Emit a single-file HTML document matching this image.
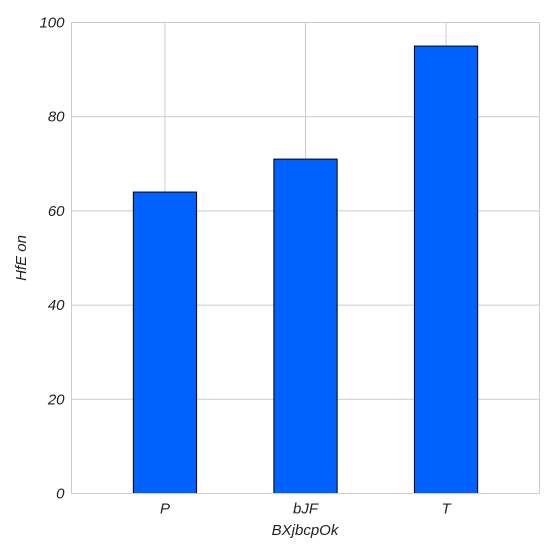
<!DOCTYPE html>
<html><head><meta charset="utf-8">
<style>
html,body{margin:0;padding:0;background:#fff;}
svg text{font-family:"Liberation Sans",sans-serif;font-style:italic;fill:#222;}
</style></head>
<body>
<svg id="chart" width="553" height="553" xmlns="http://www.w3.org/2000/svg">
<g id="grid"></g>
<g id="bars"></g>
<rect x="71.5" y="22.5" width="468" height="471" fill="none" stroke="#cccccc" stroke-width="1"/>
<g id="ticks"></g>
<text x="305" y="535" text-anchor="middle" font-size="15">BXjbcpOk</text>
<text transform="translate(26,258) rotate(-90)" text-anchor="middle" font-size="15">HfE on</text>
</svg>
<script>
const categories = ["P", "bJF", "T"];
const values = [64, 71, 95];
const yTicks = [0, 20, 40, 60, 80, 100];

const L = 71.5, R = 539.5, T = 22.5, B = 493.5;
const xMin = 0.335, xMax = 3.665, yMin = 0, yMax = 100;
const xs = i => L + ((i + 1) - xMin) / (xMax - xMin) * (R - L);
const ys = v => B - (v - yMin) / (yMax - yMin) * (B - T);
const barW = 0.45 * (R - L) / (xMax - xMin);
const NS = "http://www.w3.org/2000/svg";
const grid = document.getElementById("grid");
const bars = document.getElementById("bars");
const ticks = document.getElementById("ticks");

yTicks.forEach(v => {
  const l = document.createElementNS(NS, "line");
  
  
  l.setAttribute("x1", L); l.setAttribute("x2", R);
  l.setAttribute("y1", ys(v)); l.setAttribute("y2", ys(v));
  l.setAttribute("stroke", "#cccccc");
  grid.appendChild(l);
  const t = document.createElementNS(NS, "text");
  
  
  t.setAttribute("x", L - 7); t.setAttribute("y", ys(v) + 5);
  t.setAttribute("text-anchor", "end"); t.setAttribute("font-size", "15");
  t.textContent = v;
  ticks.appendChild(t);
});

categories.forEach((c, i) => {
  const x = xs(i);
  const l = document.createElementNS(NS, "line");
  
  
  l.setAttribute("x1", x); l.setAttribute("x2", x);
  l.setAttribute("y1", T); l.setAttribute("y2", B);
  l.setAttribute("stroke", "#cccccc");
  grid.appendChild(l);
  const r = document.createElementNS(NS, "rect");
  
  
  r.setAttribute("x", x - barW / 2); r.setAttribute("width", barW);
  r.setAttribute("y", ys(values[i])); r.setAttribute("height", B - ys(values[i]));
  r.setAttribute("fill", "#0061ff"); r.setAttribute("stroke", "#000"); r.setAttribute("stroke-width", "1");
  bars.appendChild(r);
  const t = document.createElementNS(NS, "text");
  
  
  t.setAttribute("x", x); t.setAttribute("y", B + 20);
  t.setAttribute("text-anchor", "middle"); t.setAttribute("font-size", "15");
  t.textContent = c;
  ticks.appendChild(t);
});
</script>
</body></html>
